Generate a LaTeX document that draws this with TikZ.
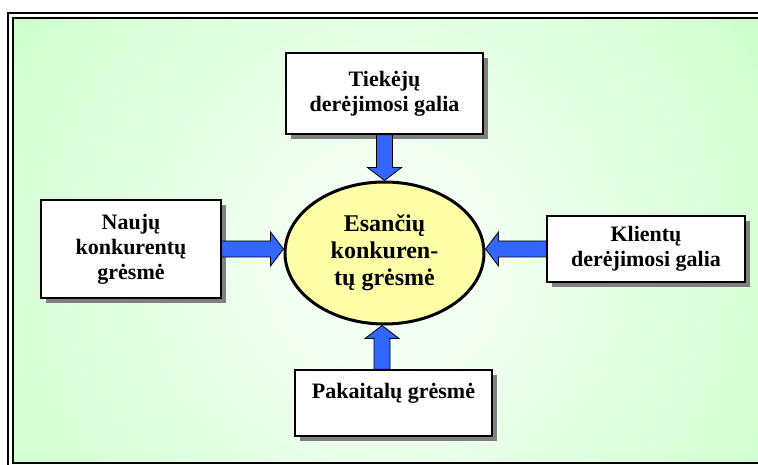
\documentclass[tikz,border=0pt]{standalone}
\usepackage{fontspec}
\setmainfont{Liberation Serif}
\usetikzlibrary{calc,shapes.geometric,shadows}
\definecolor{bggreen}{HTML}{CCFFCC}
\definecolor{bgcenter}{HTML}{F4FFF4}
\definecolor{arrowblue}{HTML}{3366FF}
\definecolor{ellfill}{HTML}{FFFFA8}
\definecolor{shadowgray}{HTML}{808080}
\pgfdeclareradialshading{bgshade}{\pgfpoint{0bp}{0bp}}{color(0bp)=(bgcenter); color(5bp)=(bgcenter); color(28bp)=(bggreen); color(50bp)=(bggreen)}
\newcommand\blockarrow[2]{%
  \draw[barrowstyle] ($(#1)!8pt!90:(#2)$) -- ($(#2)!13pt!(#1)!8pt!-90:(#1)$) -- ($(#2)!13pt!(#1)!17pt!-90:(#1)$) -- (#2) -- ($(#2)!13pt!(#1)!17pt!90:(#1)$) -- ($(#2)!13pt!(#1)!8pt!90:(#1)$) -- ($(#1)!8pt!-90:(#2)$) -- cycle;}
\begin{document}
\begin{tikzpicture}[x=1pt,y=-1pt,
  box/.style={draw, line width=1.6pt, fill=white, align=center, inner sep=0pt,
    font=\bfseries\fontsize{22}{25}\selectfont,
    drop shadow={shadow xshift=5pt, shadow yshift=-5pt, fill=shadowgray, opacity=1}},
  ellnode/.style={ellipse, draw, line width=3pt, fill=ellfill, align=center, inner sep=0pt,
    font=\bfseries\fontsize{24}{27}\selectfont},
  barrowstyle/.style={draw=black, line width=0.8pt, fill=arrowblue, line join=miter},
  frameline/.style={draw=black, line width=2pt}]
\useasboundingbox (0,0) rectangle (758,465);
\begin{scope}
  \clip (13,18) rectangle (775,463);
  \fill[bggreen] (13,18) rectangle (775,463);
  \shade[shading=bgshade] (385,265) circle (420);
\end{scope}
\draw[frameline] (8,13) rectangle (780,469);
\draw[frameline] (13,18) rectangle (775,463);

\node[box, minimum width=197pt, minimum height=81pt] (sup) at (384.5,93.5) {Tiekėjų\\derėjimosi galia};
\node[box, minimum width=180pt, minimum height=98pt] (new) at (131,249) {Naujų\\konkurentų\\grėsmė};
\node[box, minimum width=198pt, minimum height=66pt] (cli) at (646,249) {Klientų\\derėjimosi galia};
\node[box, minimum width=197pt, minimum height=66pt] (sub) at (393.5,403) {Pakaitalų grėsmė\\~};
\node[ellnode, minimum width=199pt, minimum height=142pt] (ell) at (384.5,253) {Esančių\\konkuren-\\tų grėsmė};

\coordinate (le) at (ell.west |- new.east);
\coordinate (re) at (ell.east |- cli.west);
\coordinate (bs) at ($(sub.north)+(-11.5,0)$);
\coordinate (be) at (bs |- ell.south);
\blockarrow{sup.south}{ell.north}
\blockarrow{new.east}{le}
\blockarrow{cli.west}{re}
\blockarrow{bs}{be}
\end{tikzpicture}
\end{document}
